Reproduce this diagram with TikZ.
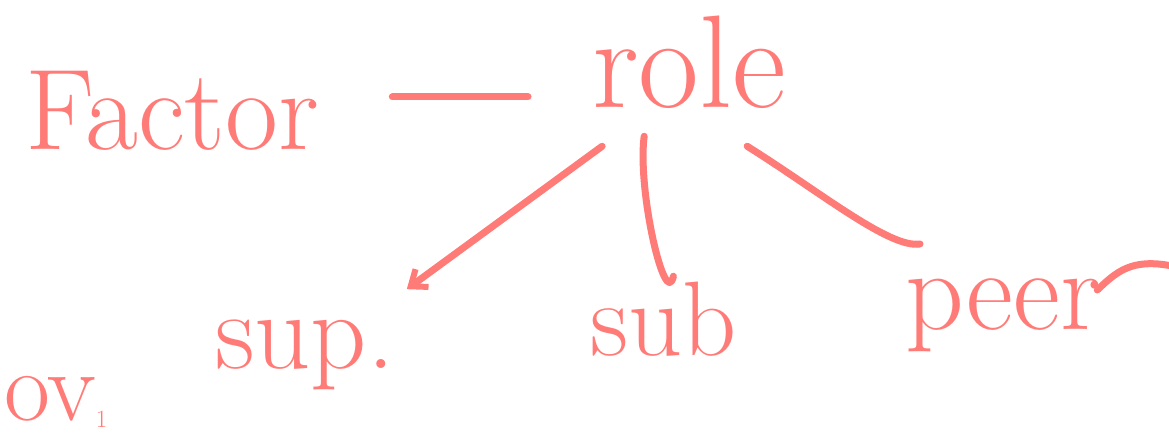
\documentclass[tikz,border=0pt]{standalone}
\usepackage{fontspec}
\usetikzlibrary{calc,arrows.meta}
\definecolor{ink}{HTML}{FF7B77}
\tikzset{
  word/.style={text=ink, inner sep=0pt, anchor=base west},
  conn/.style={draw=ink, line width=7pt, line cap=round, line join=round},
  tip/.style={-{Straight Barb[length=14pt,width=22pt,line width=6pt]}}
}
\newcommand{\fs}[1]{\fontsize{#1}{#1}\selectfont}
\begin{document}
\begin{tikzpicture}[x=1pt,y=1pt]
\useasboundingbox (0,0) rectangle (1169,-443);
\node[word, font=\fs{115}] (Factor) at (25,-150) {Factor};
\node[word, font=\fs{132}] (role) at (592,-108) {role};
\node[word, font=\fs{110}] (sup) at (215,-368) {sup.};
\node[word, font=\fs{106}] (sub) at (590,-355) {sub};
\node[word, font=\fs{115}] (peer) at (905,-330) {peer};
\node[word, font=\fs{100}] (ov) at (4,-420) {ov$_1$};
% dash between Factor and role
\draw[conn] ($(Factor.base east)+(73,53)$) -- ($(role.base west)+(-64,11)$);
% role to sup (arrow)
\draw[conn, tip] ($(role.south)+(-87,-37)$) -- ($(sup.north east)+(12,30)$);
% role to sub
\draw[conn] ($(role.south)+(-45,-27)$) .. controls ($(role.south)+(-52,-82)$) and ($(sub.north)+(2,-30)$) .. ($(sub.north)+(10,5)$);
% role to peer
\draw[conn] ($(role.south)+(58,-37)$) .. controls ($(role.south)+(130,-82)$) and ($(peer.north west)+(-15,30)$) .. ($(peer.north west)+(15,35)$);
% tail of peer
\draw[conn] ($(peer.base east)+(-4,40)$) .. controls ($(peer.base east)+(15,58)$) and ($(peer.base east)+(30,72)$) .. (1172,-266);
\end{tikzpicture}
\end{document}
